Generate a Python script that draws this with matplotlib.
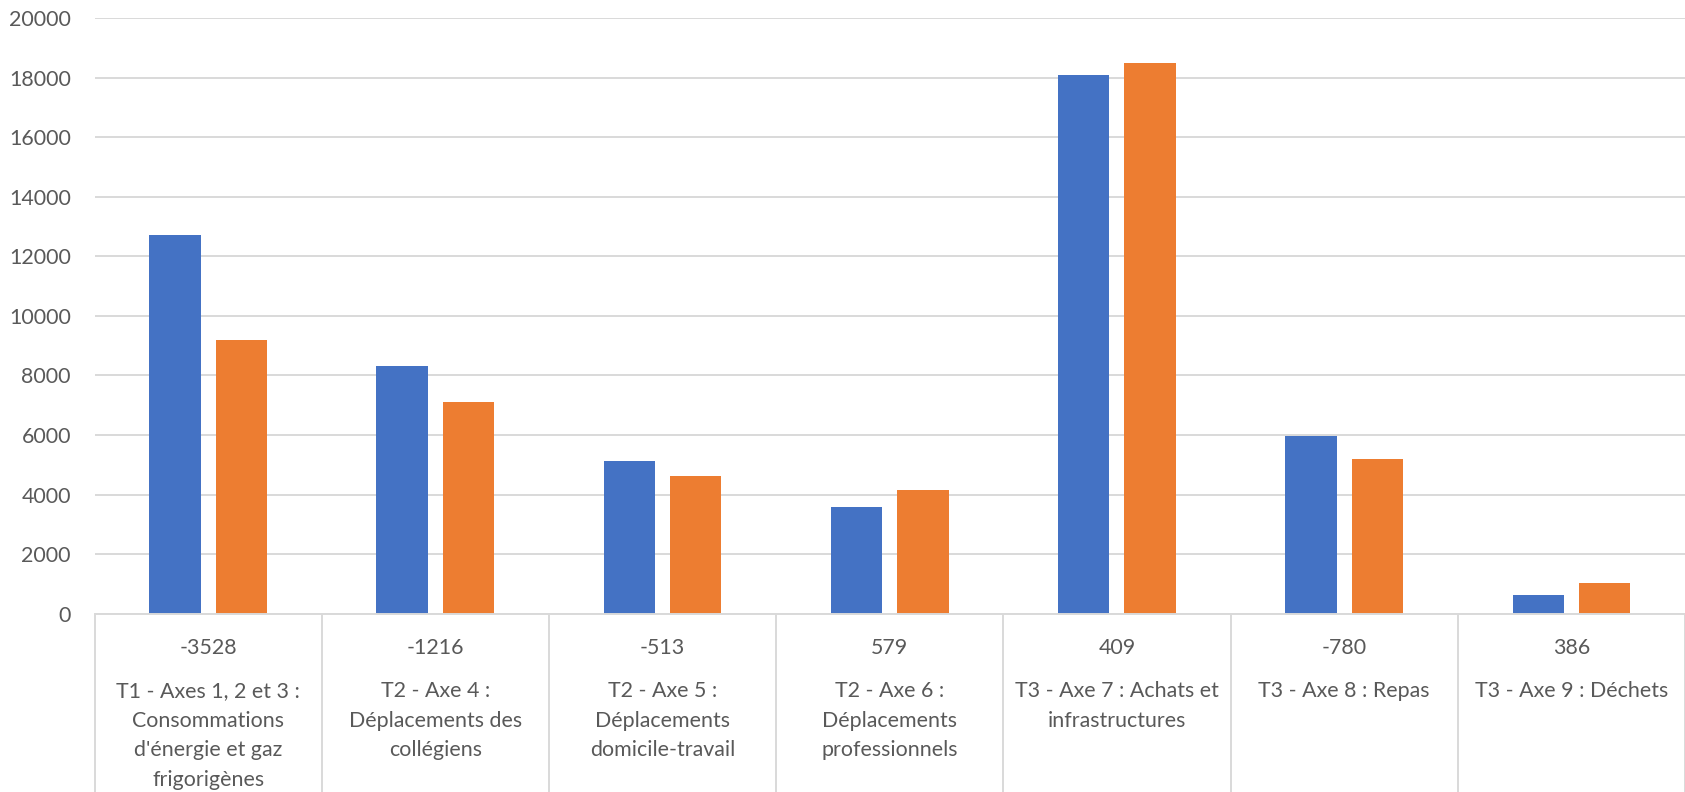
import numpy as np
import matplotlib
matplotlib.use("Agg")
import matplotlib.pyplot as plt

# data
ecarts = ["-3528", "-1216", "-513", "579", "409", "-780", "386"]
categories = [
    "T1 - Axes 1, 2 et 3 :\nConsommations\nd'énergie et gaz\nfrigorigènes",
    "T2 - Axe 4 :\nDéplacements des\ncollégiens",
    "T2 - Axe 5 :\nDéplacements\ndomicile-travail",
    "T2 - Axe 6 :\nDéplacements\nprofessionnels",
    "T3 - Axe 7 : Achats et\ninfrastructures",
    "T3 - Axe 8 : Repas",
    "T3 - Axe 9 : Déchets",
]
serie_bleue = [12720, 8330, 5120, 3570, 18080, 5970, 640]
serie_orange = [9192, 7114, 4607, 4149, 18489, 5190, 1026]
yticks = [0, 2000, 4000, 6000, 8000, 10000, 12000, 14000, 16000, 18000, 20000]

bleu = "#4472C4"
orange = "#ED7D31"
gris = "#D9D9D9"
texte = "#595959"

plt.rcParams['font.family'] = ['Lato', 'DejaVu Sans']

fig = plt.figure(figsize=(16.85, 7.92), dpi=100)
ax = fig.add_axes([0.0561, 0.2253, 0.9439, 0.7516])

x = np.arange(len(categories))
largeur = 0.226
ax.bar(x - 0.146, serie_bleue, width=largeur, color=bleu, zorder=3)
ax.bar(x + 0.146, serie_orange, width=largeur, color=orange, zorder=3)

ax.set_xlim(-0.5, len(categories) - 0.5)
ax.set_ylim(0, 20000)
ax.set_yticks(yticks)
ax.set_xticks([])
ax.tick_params(axis='y', length=0, pad=17, labelsize=15.4, labelcolor=texte)
ax.yaxis.grid(True, color=gris, linewidth=1.4, zorder=0)
for s in ["top", "right", "left"]:
    ax.spines[s].set_visible(False)
ax.spines["bottom"].set_color(gris)
ax.spines["bottom"].set_linewidth(1.4)
ax.spines["bottom"].set_zorder(4)

# multi-level category axis: separators + two rows of labels
haut_px = 595.3
bas = -(792 - 613.6) / haut_px
ax.vlines(np.arange(len(categories) + 1) - 0.5, bas - 0.01, 0,
          transform=ax.get_xaxis_transform(), colors=gris, linewidth=1.4,
          clip_on=False)

for i, (ecart, nom) in enumerate(zip(ecarts, categories)):
    ax.text(i, -34.5 / haut_px, ecart, transform=ax.get_xaxis_transform(),
            ha='center', va='center', fontsize=15.4, color=texte)
    for j, ligne in enumerate(nom.split("\n")):
        y = -(77.5 + 29.5 * j) / haut_px
        ax.text(i, y, ligne, transform=ax.get_xaxis_transform(),
                ha='center', va='center', fontsize=15.4, color=texte)

fig.savefig("out.png", dpi=100)
